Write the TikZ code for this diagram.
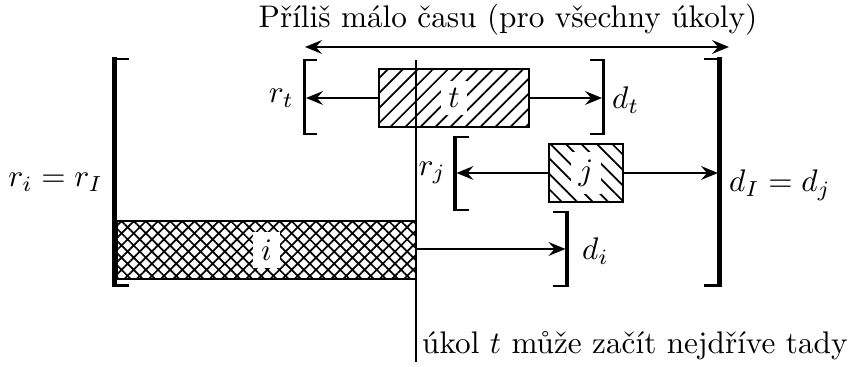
\documentclass[tikz,border=0pt]{standalone}
\usepackage{amsmath}
\usepackage{tikz}
\usetikzlibrary{patterns.meta,arrows.meta}

\begin{document}
\begin{tikzpicture}[x=0.32pt, y=-0.32pt,
    >={Stealth[length=5.4pt,width=4.4pt,inset=1.9pt]},
    every path/.style={line width=0.65pt},
    taskbox/.style={draw, line width=0.65pt, minimum height=18.6pt, inner sep=0pt},
    tasklabel/.style={fill=white, inner sep=2.5pt},
    endlabel/.style={inner sep=1pt},
    bigbar/.style={line width=1.6pt},
    smallbar/.style={line width=1pt},
    tick/.style={line width=0.85pt}]
    \useasboundingbox (0,0) rectangle (851,367);

    % Tasks
    \node[taskbox, minimum width=48pt,
          pattern={Lines[angle=45,distance=3.4pt,line width=0.55pt]}] (t) at (454,98) {};
    \node[taskbox, minimum width=23.7pt,
          pattern={Lines[angle=-45,distance=3.5pt,line width=0.55pt]}] (j) at (586,173) {};
    \node[taskbox, minimum width=95.7pt,
          pattern={Hatch[angle=45,distance=2.75pt,line width=0.55pt]}] (i) at (266.5,250) {};
    \node[tasklabel] (tl) at (t) {$t$};
    \node[tasklabel] (jl) at (j) {$j$};
    \node[tasklabel] (il) at (i) {$i$};

    % Interval I (big brackets)
    \draw[bigbar] (114.5,57.5) -- (114.5,287.5);
    \draw[tick] (112,59) -- (129,59);
    \draw[tick] (112,285.5) -- (129,285.5);
    \draw[bigbar] (719.5,57.5) -- (719.5,287.5);
    \draw[tick] (704,59) -- (722,59);
    \draw[tick] (704,285.5) -- (722,285.5);

    % Brackets of t, j and i
    \draw[smallbar] (304.5,59) -- (304.5,135);
    \draw[tick] (303,60) -- (317,60);
    \draw[tick] (303,134) -- (317,134);
    \draw[smallbar] (603.5,59) -- (603.5,135);
    \draw[tick] (590,60) -- (605,60);
    \draw[tick] (590,134) -- (605,134);
    \draw[smallbar] (455,136) -- (455,211);
    \draw[tick] (453.5,137) -- (469,137);
    \draw[tick] (453.5,210) -- (469,210);
    \draw[smallbar] (567,211) -- (567,287);
    \draw[tick] (553,212) -- (568.5,212);
    \draw[tick] (553,286) -- (568.5,286);

    % Arrow end points
    \coordinate (rt) at (306,98);
    \coordinate (dt) at (602,98);
    \coordinate (rj) at (456.5,173);
    \coordinate (dj) at (718,173);
    \coordinate (di) at (565.5,249);

    \draw[->] (t.west) -- (rt);
    \draw[->] (t.east) -- (dt);
    \draw[->] (j.west) -- (rj);
    \draw[->] (j.east) -- (dj);
    \draw[->] (i.east |- di) -- (di);

    % Labels
    \node[endlabel, anchor=east] (rtn) at (298,98) {$r_t$};
    \node[endlabel, anchor=west] (dtn) at (608,100) {$d_t$};
    \node[endlabel, anchor=east] (rjn) at (450,173) {$r_j$};
    \node[endlabel, anchor=west] (din) at (578,251) {$d_i$};
    \node[endlabel, anchor=east] (rin) at (107,182) {$r_i = r_I$};
    \node[endlabel, anchor=west] (dIn) at (725,185) {$d_I = d_j$};

    % Too little time
    \node (top) at (508,20) {Příliš málo času (pro všechny úkoly)};
    \coordinate (al) at (305,47);
    \coordinate (ar) at (729,47);
    \draw[<->] (al) -- (ar);

    % Earliest start of t
    \coordinate (lt) at (416,60);
    \coordinate (lb) at (416,362);
    \draw (lt) -- (lb);
    \node[anchor=base west, inner sep=1pt] (start) at (418,354) {úkol $t$ může začít nejdříve tady};
\end{tikzpicture}
\end{document}
